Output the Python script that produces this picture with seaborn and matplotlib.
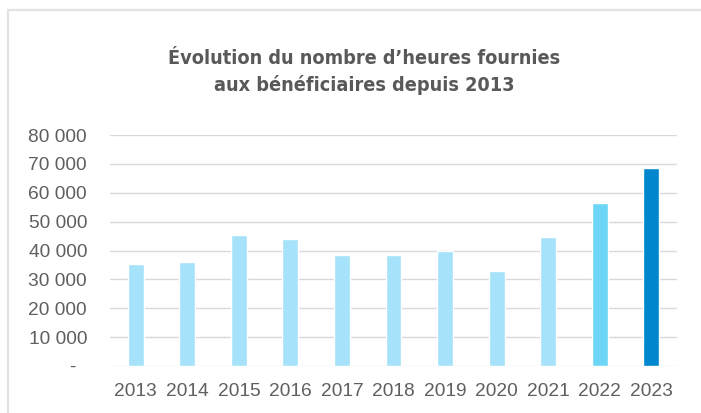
import seaborn as sns
import pandas as pd
import matplotlib.pyplot as plt
from matplotlib.patches import Rectangle
from matplotlib.ticker import FuncFormatter
from matplotlib import font_manager

# values
years = ['2013', '2014', '2015', '2016', '2017', '2018', '2019', '2020', '2021', '2022', '2023']
hours = [35300, 36100, 45200, 43900, 38400, 38400, 39800, 33000, 44700, 56600, 68700]
bar_colors = ['#a6e3fa'] * 9 + ['#6dd5f6', '#0086cd']

df = pd.DataFrame({'year': years, 'hours': hours})

sns.set_style('white')
plt.rcParams['font.family'] = ['Liberation Sans', 'DejaVu Sans']

fig = plt.figure(figsize=(7.01, 4.13), dpi=100)
ax = fig.add_axes([110 / 701, 47 / 413, 567 / 701, 231 / 413])

# light frame around the chart (only top and left visible in the crop)
fig.patches.append(Rectangle((7.5 / 701, -0.1), 1.2, 1.1 - 10.5 / 413,
                             transform=fig.transFigure, fill=False,
                             edgecolor='#e3e3e3', linewidth=1.6))

sns.barplot(data=df, x='year', y='hours', hue='year', palette=bar_colors,
            width=0.31, legend=False, ax=ax, saturation=1)

ax.set_ylim(0, 80000)
ax.set_xlim(-0.5, 10.5)
ax.set_yticks(range(0, 80001, 10000))
# excel accounting style: zero shown as a dash, space as thousands separator
ax.yaxis.set_major_formatter(FuncFormatter(
    lambda v, p: '-  ' if v == 0 else f'{int(v):,}'.replace(',', ' ')))
ax.grid(axis='y', color='#d9d9d9', linewidth=1)
ax.set_axisbelow(True)
for s in ax.spines.values():
    s.set_visible(False)
ax.tick_params(axis='both', length=0, labelsize=13.8, labelcolor='#5f5f5f')
ax.tick_params(axis='y', pad=16.5)
ax.tick_params(axis='x', pad=12.5)
ax.set_xlabel('')
ax.set_ylabel('')

# condensed bold face for the title
title_font = font_manager.FontProperties(family=['DejaVu Sans'], stretch='condensed',
                                         weight='bold', size=14.2)

fig.text(364 / 701, 1 - 72 / 413,
         'Évolution du nombre d’heures fournies\naux bénéficiaires depuis 2013',
         ha='center', va='center', fontproperties=title_font,
         color='#595959', linespacing=1.45)

fig.savefig('out.png', dpi=100)
